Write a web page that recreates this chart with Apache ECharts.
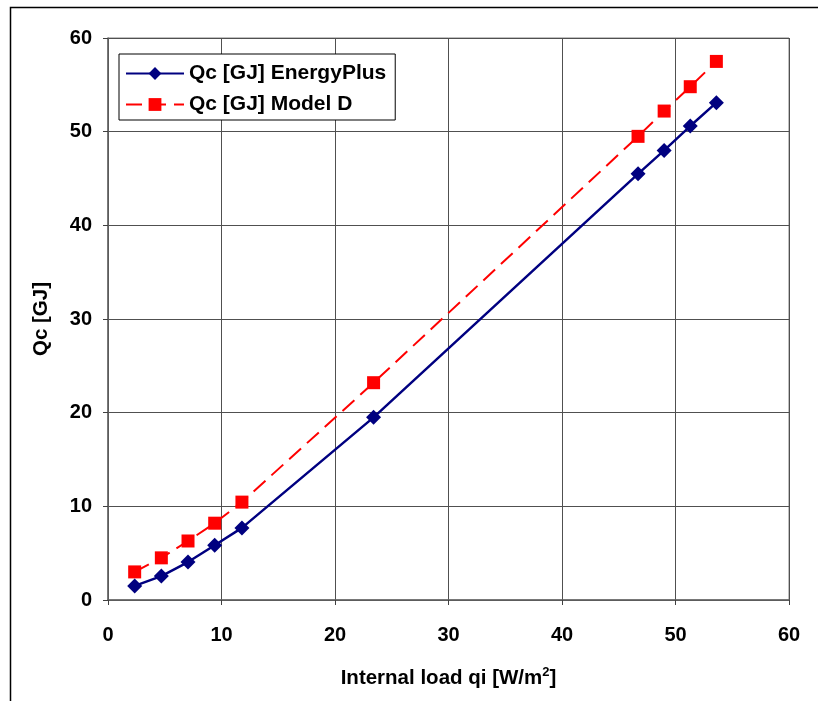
<!DOCTYPE html>
<html><head><meta charset="utf-8">
<script src="https://cdn.jsdelivr.net/npm/echarts@6/dist/echarts.min.js"></script>
<style>html,body{margin:0;padding:0;background:#fff}#c{width:818px;height:701px}</style>
</head><body><div id="c"></div>
<script>
const xEnergyPlus = [2.35, 4.7, 7.05, 9.4, 11.8, 23.4, 46.7, 49.0, 51.3, 53.6];
const qcEnergyPlus = [1.5, 2.55, 4.05, 5.85, 7.7, 19.5, 45.5, 48.0, 50.6, 53.1];
const xModelD = [2.35, 4.7, 7.05, 9.4, 11.8, 23.4, 46.7, 49.0, 51.3, 53.6];
const qcModelD = [3.0, 4.5, 6.3, 8.2, 10.45, 23.2, 49.5, 52.2, 54.8, 57.5];
const seriesNames = ['Qc [GJ] EnergyPlus', 'Qc [GJ] Model D'];
const xTitle = 'Internal load qi [W/m{sup|2}]';
const yTitle = 'Qc [GJ]';

const chart = echarts.init(document.getElementById('c'));
const font = 'Liberation Sans, Arial, sans-serif';
chart.setOption({
  animation: false,
  backgroundColor: '#fff',
  graphic: [{type:'rect', shape:{x:10.5,y:7.5,width:830,height:720}, style:{fill:'none',stroke:'#000',lineWidth:1.5}, silent:true, z:-1}],
  grid: {left:108, top:38, right:29, bottom:101, show:true, borderColor:'#808080', borderWidth:1},
  legend: {
    left:119, top:54, orient:'vertical', itemWidth:58, itemHeight:16, itemGap:10,
    padding:[9,9,5,6], backgroundColor:'#fff', borderColor:'#000', borderWidth:1,
    textStyle:{fontFamily:font, fontWeight:'bold', fontSize:21, color:'#000'},
    data: seriesNames
  },
  xAxis: {
    type:'value', min:0, max:60, interval:10,
    name:xTitle, nameLocation:'middle', nameGap:66,
    nameTextStyle:{fontFamily:font, fontWeight:'bold', fontSize:20.5, color:'#000',
      rich:{sup:{fontFamily:font, fontWeight:'bold', fontSize:13, color:'#000', verticalAlign:'top', padding:[0,0,12,0]}}},
    axisLine:{show:true, onZero:false, lineStyle:{color:'#606060', width:1.5}},
    axisTick:{show:true, inside:false, length:5, lineStyle:{color:'#404040'}},
    axisLabel:{fontFamily:font, fontWeight:'bold', fontSize:20, color:'#000', margin:25},
    splitLine:{show:true, lineStyle:{color:'#505050', width:1}}
  },
  yAxis: {
    type:'value', min:0, max:60, interval:10,
    name:yTitle, nameLocation:'middle', nameGap:56,
    nameTextStyle:{fontFamily:font, fontWeight:'bold', fontSize:20.5, color:'#000'},
    axisLine:{show:true, onZero:false, lineStyle:{color:'#606060', width:1.5}},
    axisTick:{show:true, inside:false, length:5, lineStyle:{color:'#404040'}},
    axisLabel:{fontFamily:font, fontWeight:'bold', fontSize:20, color:'#000', margin:16},
    splitLine:{show:true, lineStyle:{color:'#505050', width:1}}
  },
  series: [
    {name:seriesNames[0], type:'line', data:xEnergyPlus.map((x,i)=>[x,qcEnergyPlus[i]]),
     symbol:'diamond', symbolSize:15, itemStyle:{color:'#000080'},
     lineStyle:{color:'#000080', width:2.5}, z:3},
    {name:seriesNames[1], type:'line', data:xModelD.map((x,i)=>[x,qcModelD[i]]),
     symbol:'rect', symbolSize:13, itemStyle:{color:'#ff0000'},
     lineStyle:{color:'#ff0000', width:2, type:[16,8]}, z:2}
  ]
});
</script></body></html>
